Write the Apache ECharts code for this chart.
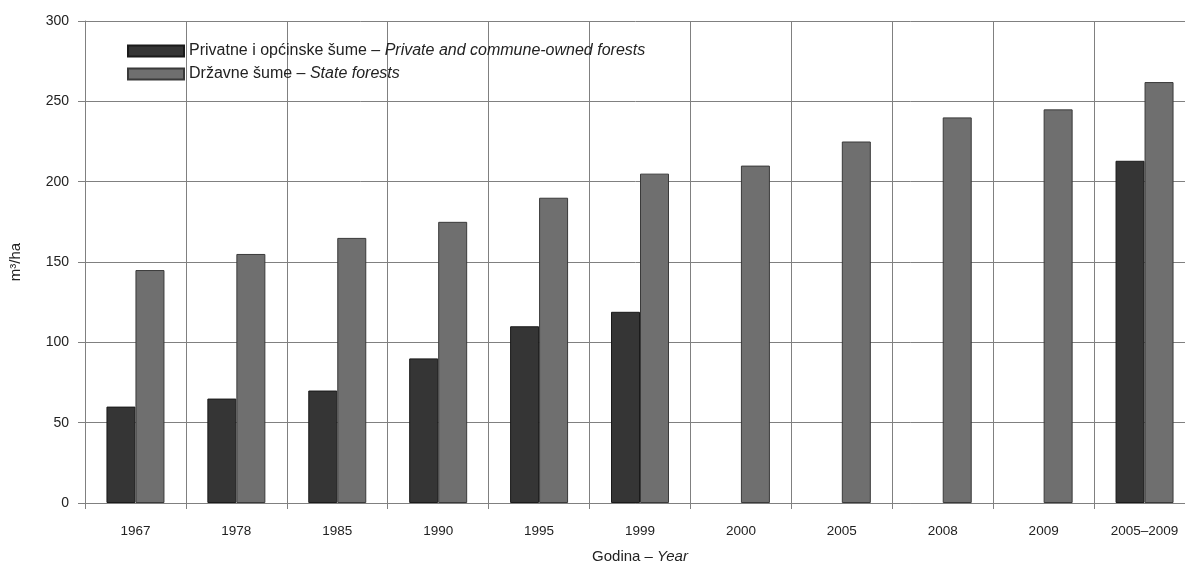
<!DOCTYPE html>
<html>
<head>
<meta charset="utf-8">
<script src="https://cdn.jsdelivr.net/npm/echarts@6/dist/echarts.min.js"></script>
<style>html,body{margin:0;padding:0;background:#fff}#c{width:1185px;height:563px}</style>
</head>
<body>
<div id="c"></div>
<script>
const categories = ['1967','1978','1985','1990','1995','1999','2000','2005','2008','2009','2005–2009'];
const privateForests = [60, 65, 70, 90, 110, 119, null, null, null, null, 213];
const stateForests = [145, 155, 165, 175, 190, 205, 210, 225, 240, 245, 262];
const yTicks = { min: 0, max: 300, interval: 50 };
const seriesNames = ['Privatne i općinske šume – Private and commune-owned forests', 'Državne šume – State forests'];

const font = 'Liberation Sans, Arial, sans-serif';
const chart = echarts.init(document.getElementById('c'));
chart.setOption({
  animation: false,
  backgroundColor: '#fff',
  textStyle: { fontFamily: font, color: '#222' },
  grid: { left: 85, width: 1110, top: 21, height: 482, containLabel: false, outerBoundsMode: 'none' },
  legend: {
    orient: 'vertical', left: 122, top: 38,
    itemWidth: 56, itemHeight: 11, itemGap: 7,
    icon: 'rect',
    textStyle: {
      fontFamily: font, fontSize: 16, color: '#222', lineHeight: 16,
      rich: {
        n: { fontFamily: font, fontSize: 16, color: '#222' },
        i: { fontFamily: font, fontSize: 16, color: '#222', fontStyle: 'italic' }
      }
    },
    formatter: function (name) {
      const p = name.split(' – ');
      return '{n|' + p[0] + ' – }{i|' + p[1] + '}';
    },
    data: seriesNames
  },
  xAxis: {
    type: 'category',
    data: categories,
    boundaryGap: true,
    name: '{n|Godina – }{i|Year}',
    nameLocation: 'middle',
    nameGap: 46,
    nameTextStyle: {
      fontFamily: font, fontSize: 15, color: '#222',
      rich: {
        n: { fontFamily: font, fontSize: 15, color: '#222' },
        i: { fontFamily: font, fontSize: 15, color: '#222', fontStyle: 'italic' }
      }
    },
    axisLine: { show: true, lineStyle: { color: '#808080', width: 1 } },
    axisTick: { show: true, length: 6, alignWithLabel: false, lineStyle: { color: '#808080' } },
    axisLabel: { fontFamily: font, fontSize: 13.5, color: '#222', margin: 21, interval: 0 },
    splitLine: { show: true, interval: 0, lineStyle: { color: '#808080', width: 1 } }
  },
  yAxis: {
    type: 'value',
    min: yTicks.min, max: yTicks.max, interval: yTicks.interval,
    name: 'm³/ha',
    nameLocation: 'middle',
    nameGap: 62,
    nameRotate: 90,
    nameTextStyle: { fontFamily: font, fontSize: 15, color: '#222' },
    axisLine: { show: true, lineStyle: { color: '#808080', width: 1 } },
    axisTick: { show: true, length: 7, lineStyle: { color: '#808080' } },
    axisLabel: { fontFamily: font, fontSize: 14, color: '#222', margin: 16 },
    splitLine: { show: true, lineStyle: { color: '#808080', width: 1 } }
  },
  series: [
    {
      name: seriesNames[0], type: 'bar', data: privateForests,
      barWidth: 29, barGap: '0%',
      itemStyle: { color: '#353535', borderColor: '#1a1a1a', borderWidth: 1 }
    },
    {
      name: seriesNames[1], type: 'bar', data: stateForests,
      barWidth: 29, barGap: '0%',
      itemStyle: { color: '#6f6f6f', borderColor: '#3a3a3a', borderWidth: 1 }
    }
  ]
});
</script>
</body>
</html>
